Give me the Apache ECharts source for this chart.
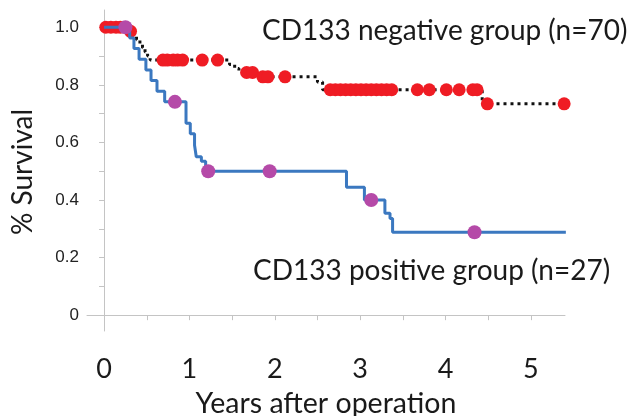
<!DOCTYPE html>
<html>
<head>
<meta charset="utf-8">
<script src="https://cdn.jsdelivr.net/npm/echarts@6/dist/echarts.min.js"></script>
<style>
html,body{margin:0;padding:0;background:#fff;}
#chart{width:630px;height:416px;}
</style>
</head>
<body>
<div id="chart"></div>
<script>
// CD133 negative group (n=70): Kaplan-Meier step points
const negTimes  = [0, 0.28, 0.33, 0.38, 0.42, 0.45, 0.48, 0.51, 0.54, 1.47, 1.53, 1.58, 1.82, 2.50, 2.56, 4.43, 5.39];
const negSurv   = [1.0, 0.986, 0.971, 0.957, 0.943, 0.929, 0.914, 0.900, 0.886, 0.871, 0.857, 0.843, 0.828, 0.810, 0.783, 0.734, 0.734];
// censored observations (negative group)
const negCensorTimes = [0.02, 0.08, 0.14, 0.19, 0.31, 0.69, 0.74, 0.81, 0.86, 0.92, 1.15, 1.33, 1.67, 1.74, 1.86, 1.92, 2.12,
  2.65, 2.71, 2.77, 2.83, 2.89, 2.95, 3.01, 3.07, 3.13, 3.19, 3.25, 3.31, 3.37, 3.67, 3.81, 4.01, 4.16, 4.32, 4.37, 4.49, 5.39];
const negCensorSurv  = [1.0, 1.0, 1.0, 1.0, 0.986, 0.886, 0.886, 0.886, 0.886, 0.886, 0.886, 0.886, 0.843, 0.843, 0.828, 0.828, 0.828,
  0.783, 0.783, 0.783, 0.783, 0.783, 0.783, 0.783, 0.783, 0.783, 0.783, 0.783, 0.783, 0.783, 0.783, 0.783, 0.783, 0.783, 0.783, 0.783, 0.734, 0.734];

// CD133 positive group (n=27)
const posTimes = [0, 0.30, 0.35, 0.41, 0.49, 0.55, 0.62, 0.71, 0.96, 1.01, 1.06, 1.08, 1.14, 1.19, 2.84, 3.05, 3.29, 3.35, 3.38, 5.41];
const posSurv  = [1.0, 0.963, 0.926, 0.889, 0.852, 0.815, 0.778, 0.741, 0.667, 0.630, 0.590, 0.550, 0.535, 0.500, 0.444, 0.400, 0.354, 0.336, 0.288, 0.288];
const posCensorTimes = [0.25, 0.83, 1.22, 1.94, 3.13, 4.34];
const posCensorSurv  = [1.0, 0.741, 0.500, 0.500, 0.400, 0.288];

// axis ticks / labels
const xTickValues  = [0, 0.5, 1, 1.5, 2, 2.5, 3, 3.5, 4, 4.5, 5];
const xLabelValues = [0, 1, 2, 3, 4, 5];
const yTickValues  = [0, 0.1, 0.2, 0.3, 0.4, 0.5, 0.6, 0.7, 0.8, 0.9, 1.0];
const yLabelValues = [0, 0.2, 0.4, 0.6, 0.8, 1.0];

const zip = (a, b) => a.map((v, i) => [v, b[i]]);

const chart = echarts.init(document.getElementById('chart'), null, {renderer: 'canvas'});
const axisColor = '#c4c4c4';
chart.setOption({
  animation: false,
  backgroundColor: '#ffffff',
  grid: {left: 87, right: 65, top: 10, bottom: 85, containLabel: false},
  xAxis: {
    type: 'value', min: -0.2, max: 5.4,
    axisLine: {show: true, lineStyle: {color: axisColor, width: 1}},
    axisTick: {show: true, customValues: xTickValues, length: 5, lineStyle: {color: axisColor}},
    axisLabel: {show: true, customValues: xLabelValues, margin: 25, color: '#1a1a1a',
      fontFamily: 'Lato', fontSize: 27, formatter: v => String(Math.round(v))},
    splitLine: {show: false}
  },
  yAxis: {
    type: 'value', min: -0.055, max: 1.06,
    axisLine: {show: true, lineStyle: {color: axisColor, width: 1}},
    axisTick: {show: true, customValues: yTickValues, length: 5, lineStyle: {color: axisColor}},
    axisLabel: {show: true, customValues: yLabelValues, margin: 8, color: '#222',
      fontFamily: 'Liberation Sans', fontSize: 17, formatter: v => (v === 0 ? '0' : v.toFixed(1))},
    splitLine: {show: false}
  },
  graphic: [
    {type: 'text', x: 262, y: 31, style: {text: 'CD133 negative group (n=70)', font: '28px Lato', fill: '#1a1a1a', verticalAlign: 'middle', align: 'left'}},
    {type: 'text', x: 253, y: 271, style: {text: 'CD133 positive group (n=27)', font: '28px Lato', fill: '#1a1a1a', verticalAlign: 'middle', align: 'left'}},
    {type: 'text', x: 23, y: 172, rotation: Math.PI / 2, style: {text: '% Survival', font: '28px Lato', fill: '#1a1a1a', verticalAlign: 'middle', align: 'center'}},
    {type: 'text', x: 326, y: 404, style: {text: 'Years after operation', font: '28.5px Lato', fill: '#1a1a1a', verticalAlign: 'middle', align: 'center'}}
  ],
  series: [
    {
      name: 'CD133 negative', type: 'line', step: 'end', data: zip(negTimes, negSurv),
      symbol: 'none', clip: false, z: 1,
      lineStyle: {color: '#111111', width: 3, type: [3, 4]}
    },
    {
      name: 'negative censored', type: 'scatter', data: zip(negCensorTimes, negCensorSurv),
      symbol: 'circle', symbolSize: 13, clip: false, z: 2,
      itemStyle: {color: '#ef1c24', opacity: 1}
    },
    {
      name: 'CD133 positive', type: 'line', step: 'end', data: zip(posTimes, posSurv),
      symbol: 'none', clip: false, z: 3,
      lineStyle: {color: '#3b78c0', width: 3}
    },
    {
      name: 'positive censored', type: 'scatter', data: zip(posCensorTimes, posCensorSurv),
      symbol: 'circle', symbolSize: 14, clip: false, z: 4,
      itemStyle: {color: '#b54aa8', opacity: 1}
    }
  ]
});
</script>
</body>
</html>
